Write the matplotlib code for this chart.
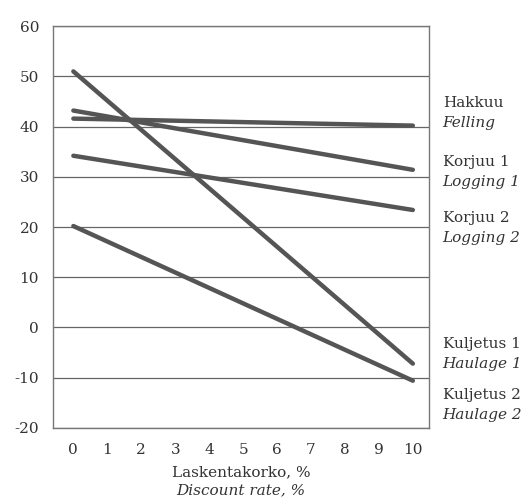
import matplotlib.pyplot as plt

# discount rate, % (end points of each straight line)
rates = [0, 10]

hakkuu = [41.6, 40.2]
korjuu_1 = [43.2, 31.4]
korjuu_2 = [34.2, 23.4]
kuljetus_1 = [51.0, -7.2]
kuljetus_2 = [20.2, -10.6]

series = [hakkuu, korjuu_1, korjuu_2, kuljetus_1, kuljetus_2]

# right-hand labels: (finnish, english, y in axes fraction)
side_labels = [
    ("Hakkuu", "Felling", 0.808),
    ("Korjuu 1", "Logging 1", 0.662),
    ("Korjuu 2", "Logging 2", 0.522),
    ("Kuljetus 1", "Haulage 1", 0.208),
    ("Kuljetus 2", "Haulage 2", 0.082),
]

plt.rcParams["font.family"] = ["DejaVu Serif"]
plt.rcParams["axes.unicode_minus"] = False
ink = "#333333"
line_col = "#555555"
fs = 11

fig = plt.figure(figsize=(5.32, 5.04), dpi=100)
ax = fig.add_axes([0.0996, 0.151, 0.7064, 0.797])

for vals in series:
    ax.plot(rates, vals, color=line_col, lw=3.2, solid_capstyle="round", zorder=3)

ax.set_xlim(-0.6, 10.47)
ax.set_ylim(-20.0, 60)
ax.set_xticks(range(0, 11))
ax.set_yticks(range(-20, 61, 10))
ax.tick_params(length=0, labelsize=fs, colors=ink, pad=11)
ax.tick_params(axis="y", pad=10)
ax.yaxis.grid(True, color="#666666", lw=0.9)
ax.set_axisbelow(True)
for sp in ax.spines.values():
    sp.set_color("#777777")
    sp.set_linewidth(1.0)

ax.text(0.5, -0.11, "Laskentakorko, %", transform=ax.transAxes,
        ha="center", va="center", fontsize=fs, color=ink)
ax.text(0.5, -0.155, "Discount rate, %", transform=ax.transAxes,
        ha="center", va="center", fontsize=fs, color=ink, style="italic")

for fi, en, yy in side_labels:
    ax.text(1.037, yy, fi, transform=ax.transAxes, ha="left", va="center",
            fontsize=fs, color=ink)
    ax.text(1.037, yy - 0.05, en, transform=ax.transAxes, ha="left",
            va="center", fontsize=fs, color=ink, style="italic")

fig.savefig("out.png", dpi=100, facecolor="white")
